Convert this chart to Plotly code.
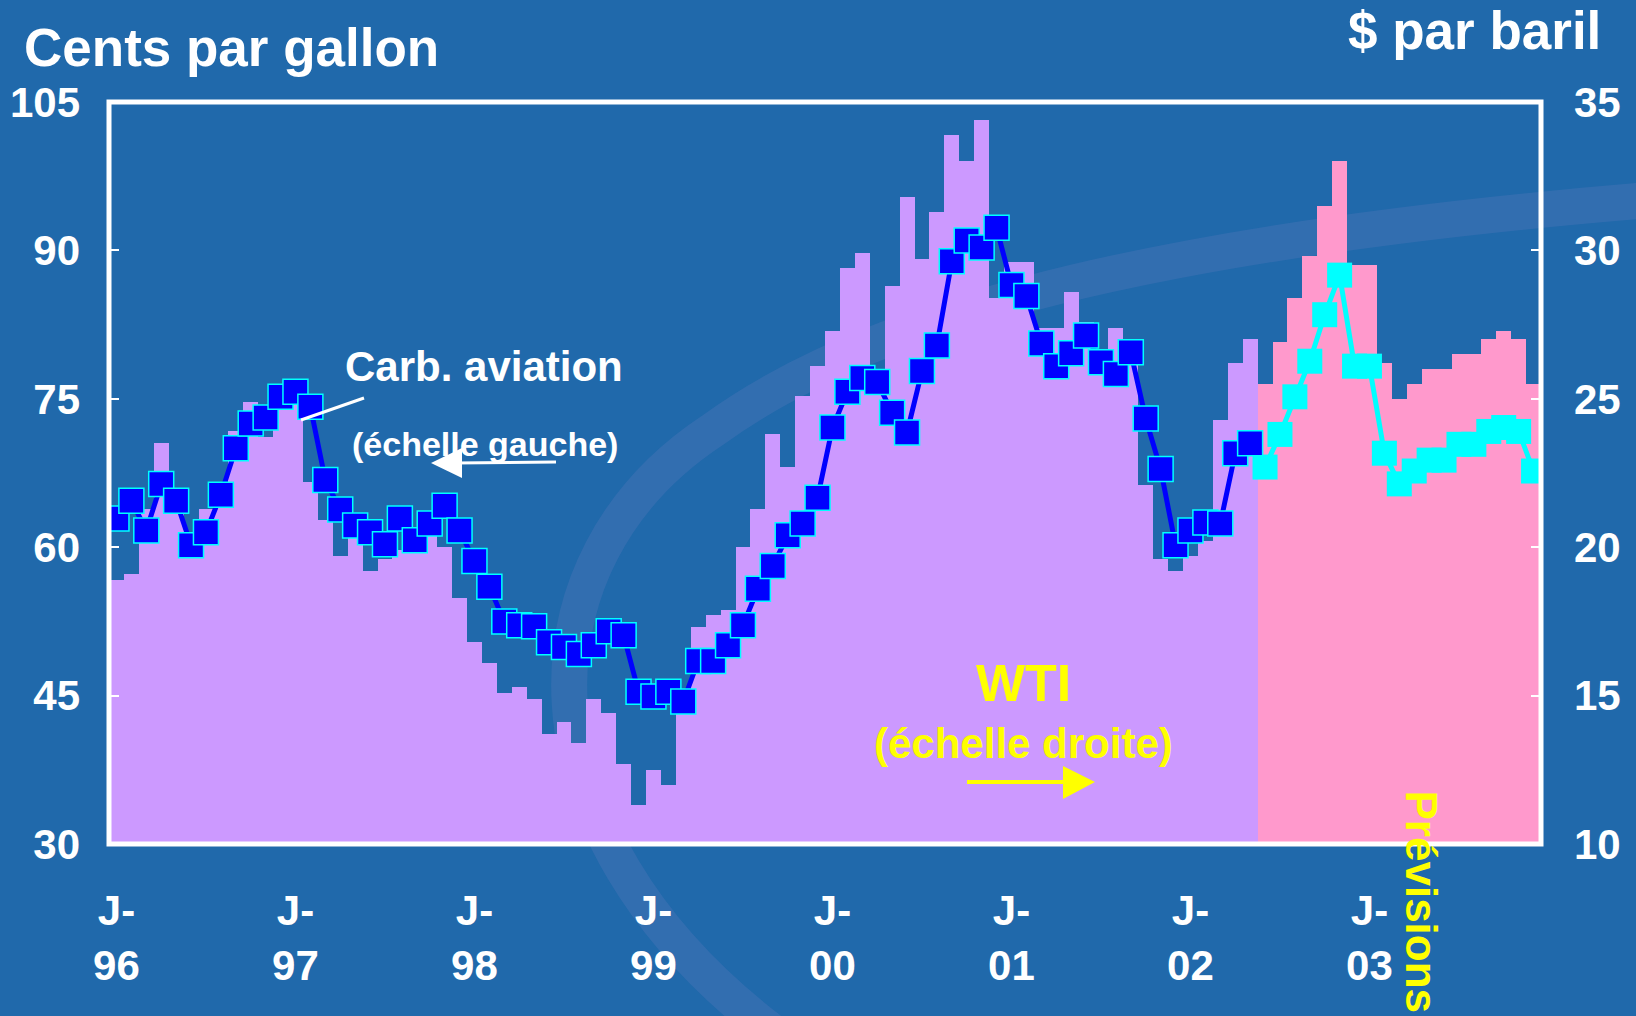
import plotly.graph_objects as go

# ---------------- data ----------------
# monthly positions Jan-96 .. Dec-03 (index 0 .. 95)
months = [f"{1996 + k // 12}-{k % 12 + 1:02d}" for k in range(96)]
month_pos = list(range(len(months)))
n_hist = 77  # Jan-96 .. May-02 historical, Jun-02 .. Dec-03 forecast

# WTI, $ per barrel (right scale)
wti_hist = [18.9, 19.1, 21.3, 23.5, 21.2, 20.4, 21.3, 21.9, 23.9, 24.9, 23.7, 25.2,
            25.1, 22.2, 20.9, 19.7, 20.4, 19.2, 19.6, 19.9, 19.8, 21.0, 20.0, 18.3,
            16.8, 16.1, 15.1, 15.3, 14.9, 13.7, 14.1, 13.4, 14.9, 14.4, 12.7, 11.3,
            12.5, 12.0, 14.6, 17.3, 17.7, 17.9, 20.0, 21.3, 23.8, 22.7, 25.1, 26.1,
            27.3, 29.4, 29.9, 25.8, 28.8, 31.8, 29.7, 31.3, 33.9, 33.0, 34.4, 28.4,
            29.6, 29.6, 27.4, 27.4, 28.6, 27.6, 26.4, 27.4, 26.2, 22.1, 19.6, 19.2,
            19.7, 20.2, 24.3, 26.2, 27.0]
wti_fcst = [25.5, 26.9, 28.4, 29.8, 31.5, 33.0, 29.5, 29.5, 26.2, 25.0, 25.5, 26.0,
            26.0, 26.5, 26.5, 27.0, 27.3, 27.0, 25.5]

# Jet fuel, cents per gallon (left scale)
jet_hist = [62.9, 64.7, 61.7, 66.4, 64.7, 60.2, 61.5, 65.3, 70.0, 72.5, 73.1, 75.2,
            75.7, 74.2, 66.8, 63.8, 62.2, 61.5, 60.3, 62.9, 60.7, 62.4, 64.2, 61.7,
            58.6, 56.0, 52.5, 52.1, 52.0, 50.4, 49.9, 49.2, 50.1, 51.5, 51.1, 45.4,
            44.9, 45.4, 44.4, 48.5, 48.5, 50.1, 52.1, 55.8, 58.1, 61.2, 62.4, 65.0,
            72.1, 75.7, 77.1, 76.7, 73.6, 71.6, 77.8, 80.4, 88.9, 91.0, 90.3, 92.3,
            86.5, 85.4, 80.6, 78.3, 79.6, 81.4, 78.7, 77.5, 79.7, 73.0, 67.9, 60.2,
            61.7, 62.5, 62.4, 69.5, 70.5]
jet_fcst = [68.1, 71.4, 75.2, 78.8, 83.5, 87.5, 78.3, 78.3, 69.5, 66.4, 67.7, 68.8,
            68.8, 70.4, 70.4, 71.7, 72.1, 71.7, 67.7]

year_tick_pos = [0, 12, 24, 36, 48, 60, 72, 84]
year_tick_text = ["J-<br>96", "J-<br>97", "J-<br>98", "J-<br>99",
                  "J-<br>00", "J-<br>01", "J-<br>02", "J-<br>03"]
jet_ticks = [30, 45, 60, 75, 90, 105]
wti_ticks = [10, 15, 20, 25, 30, 35]

# ---------------- styling ----------------
W, H = 1636, 1016
L, R, T, B = 109, 1541, 102, 844
BG = "#2069AB"
LAV = "#CC99FF"
PINK = "#FF99CC"
DARK = "#0000FF"
CYAN = "#00FFFF"
YEL = "#FFFF00"
FONT = "Liberation Sans, Arial, sans-serif"


def px(x):
    return (x - L) / (R - L)


def py(y):
    return (B - y) / (B - T)


x_hist = month_pos[:n_hist]
x_fcst = month_pos[n_hist:]

fig = go.Figure()

# WTI bars (main y axis, right side)
fig.add_trace(go.Bar(x=x_hist, y=wti_hist, width=1, marker=dict(color=LAV, line=dict(width=0)),
                     yaxis="y", name="WTI"))
fig.add_trace(go.Bar(x=x_fcst, y=wti_fcst, width=1, marker=dict(color=PINK, line=dict(width=0)),
                     yaxis="y", name="WTI prévisions"))

# Jet fuel forecast (connected from last historical point)
fig.add_trace(go.Scatter(x=[x_hist[-1]] + x_fcst, y=[jet_hist[-1]] + jet_fcst, yaxis="y2",
                         mode="lines+markers",
                         line=dict(color=CYAN, width=5),
                         marker=dict(symbol="square", size=25, color=CYAN, line=dict(width=0)),
                         name="Carb. aviation prévisions"))
# Jet fuel historical
fig.add_trace(go.Scatter(x=x_hist, y=jet_hist, yaxis="y2", mode="lines+markers",
                         line=dict(color=DARK, width=5),
                         marker=dict(symbol="square", size=25, color=DARK,
                                     line=dict(color=CYAN, width=1.5)),
                         name="Carb. aviation"))

tickfont = dict(family=FONT, size=42, color="white", weight="bold")

fig.update_layout(
    width=W, height=H,
    margin=dict(l=L, r=W - R, t=T, b=H - B, pad=0),
    paper_bgcolor=BG, plot_bgcolor=BG,
    showlegend=False, barmode="overlay", bargap=0,
    xaxis=dict(range=[-0.5, 95.5], tickmode="array", tickvals=year_tick_pos, ticktext=year_tick_text,
               showgrid=False, zeroline=False, showline=False, ticks="",
               tickfont=tickfont, ticklabelstandoff=38, automargin=False),
    yaxis=dict(range=[10, 35], side="right", tickmode="array", tickvals=wti_ticks,
               ticks="inside", ticklen=10, tickwidth=2, tickcolor="white",
               showgrid=False, zeroline=False, showline=False,
               tickfont=tickfont, ticklabelstandoff=32, automargin=False),
    yaxis2=dict(range=[30, 105], side="left", overlaying="y", tickmode="array", tickvals=jet_ticks,
                ticks="inside", ticklen=10, tickwidth=2, tickcolor="white",
                showgrid=False, zeroline=False, showline=False,
                tickfont=tickfont, ticklabelstandoff=28, automargin=False),
)


def P(x, y):
    return f"{px(x):.5f},{py(y):.5f}"


shapes = []
# faint watermark swoosh
shapes.append(dict(type="path", xref="paper", yref="paper", layer="below",
                   path=f"M{P(770,1030)} C{P(510,830)} {P(515,560)} {P(713,430)} "
                        f"C{P(850,330)} {P(1100,245)} {P(1650,200)}",
                   line=dict(color="rgba(160,140,215,0.14)", width=36)))
# plot frame
shapes.append(dict(type="rect", xref="paper", yref="paper", x0=0, x1=1, y0=0, y1=1,
                   line=dict(color="white", width=5), layer="above"))
# pointer line for jet fuel label
shapes.append(dict(type="line", xref="paper", yref="paper", x0=px(364), y0=py(398),
                   x1=px(301), y1=py(420), line=dict(color="white", width=3)))
# white arrow (left scale)
shapes.append(dict(type="line", xref="paper", yref="paper", x0=px(556), y0=py(462),
                   x1=px(455), y1=py(463), line=dict(color="white", width=3)))
shapes.append(dict(type="path", xref="paper", yref="paper",
                   path=f"M{P(431,463)} L{P(462,448)} L{P(462,478)} Z",
                   fillcolor="white", line=dict(color="white", width=0)))
# yellow arrow (right scale)
shapes.append(dict(type="line", xref="paper", yref="paper", x0=px(967), y0=py(782),
                   x1=px(1070), y1=py(782), line=dict(color=YEL, width=4)))
shapes.append(dict(type="path", xref="paper", yref="paper",
                   path=f"M{P(1095,782)} L{P(1063,766)} L{P(1063,799)} Z",
                   fillcolor=YEL, line=dict(color=YEL, width=0)))
fig.update_layout(shapes=shapes)


def ann(text, x, y, size, color="white", xanchor="center", yanchor="middle", angle=0):
    fig.add_annotation(text=text, xref="paper", yref="paper", x=px(x), y=py(y),
                       xanchor=xanchor, yanchor=yanchor, showarrow=False, textangle=angle,
                       font=dict(family=FONT, size=size, color=color, weight="bold"))


ann("Cents par gallon", 22, 48, 53, xanchor="left")
ann("$ par baril", 1474, 31, 53)
ann("Carb. aviation", 484, 366, 42)
ann("(échelle gauche)", 485, 444, 34)
ann("WTI", 1023, 683, 52, color=YEL)
ann("(échelle droite)", 1023, 743, 42, color=YEL)
ann("Prévisions", 1421, 788, 44, color=YEL, yanchor="top", angle=90)

page_js = ("document.body.style.margin='0';"
           "document.body.style.backgroundColor='#2069AB';"
           "document.documentElement.style.overflow='hidden';")
fig.write_html("out.html", post_script=page_js, config={"displayModeBar": False})
